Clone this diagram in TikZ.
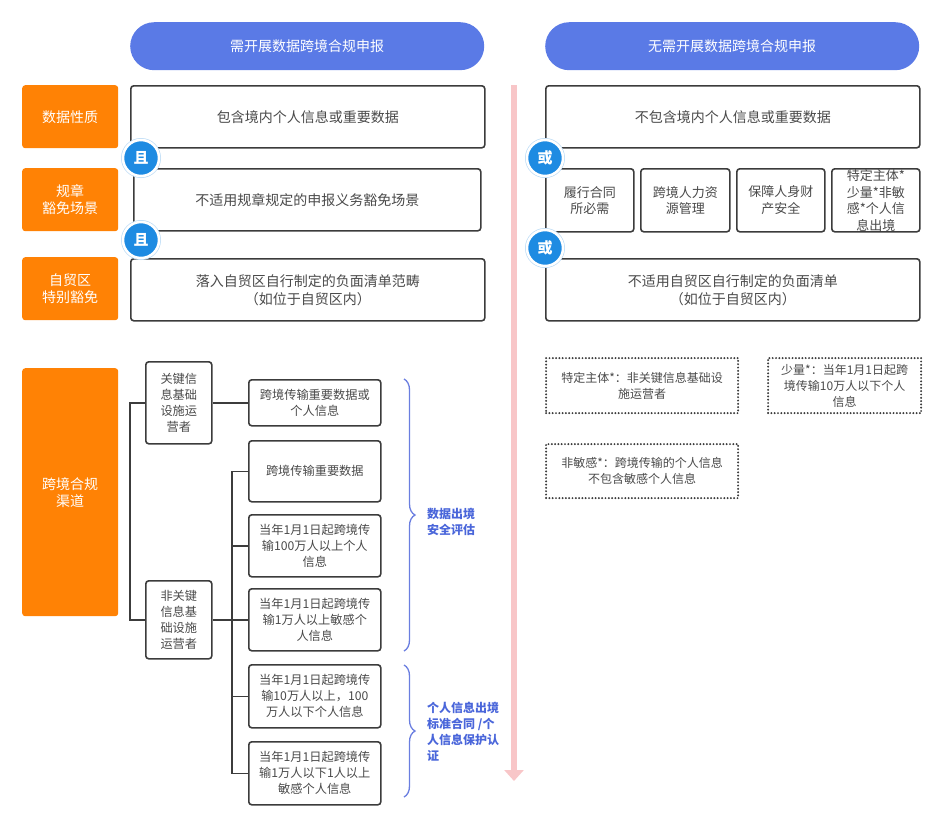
\documentclass[tikz,border=0pt]{standalone}
\usepackage{fontspec}
\setmainfont{Noto Sans CJK SC}
\usetikzlibrary{arrows.meta,decorations.pathreplacing,calc}
\definecolor{hdrblue}{HTML}{5A7AE6}
\definecolor{orangebox}{HTML}{FF8205}
\definecolor{circblue}{HTML}{1E8BE2}
\definecolor{circhalo}{HTML}{BFDDF6}
\definecolor{bordergray}{HTML}{3C3C3C}
\definecolor{textgray}{HTML}{4A4A4A}
\definecolor{bracecol}{HTML}{6A7EE0}
\definecolor{labelblue}{HTML}{4A66DA}
\definecolor{pinkline}{HTML}{F8C6C8}
\begin{document}
\begin{tikzpicture}[x=1pt,y=-1pt,
  hdr/.style={fill=hdrblue, rounded corners=24pt, text=white, anchor=north west, inner sep=0pt,
    font=\fontsize{14}{17}\selectfont},
  obox/.style={fill=orangebox, rounded corners=3pt, text=white, anchor=north west, inner sep=0pt,
    align=center, font=\fontsize{14}{17}\selectfont},
  wbox/.style={draw=bordergray, line width=1.6pt, rounded corners=3pt, fill=white, text=textgray,
    anchor=north west, inner sep=0pt, align=center, font=\fontsize{14}{18}\selectfont},
  sbox/.style={wbox, font=\fontsize{13}{16.5}\selectfont},
  tbox/.style={wbox, font=\fontsize{12.2}{16}\selectfont},
  dbox/.style={draw=bordergray, line width=2.2pt, dash pattern=on 0pt off 3.3pt, line cap=round,
    text=textgray, anchor=north west, inner sep=0pt, align=center, font=\fontsize{12}{16}\selectfont},
  logic/.style={circle, fill=circblue, draw=white, line width=2.5pt, minimum size=36pt, inner sep=0pt,
    text=white, font=\fontsize{15}{15}\selectfont\bfseries,
    append after command={\pgfextra{\draw[circhalo, line width=1pt] (\tikzlastnode.center) circle (19.5pt);}}},
  conn/.style={draw=bordergray, line width=1.5pt},
  brc/.style={draw=bracecol, line width=1.3pt, decorate, decoration={brace, amplitude=11pt}},
  blab/.style={anchor=west, align=left, text=labelblue, inner sep=0pt,
    font=\fontsize{12}{16}\selectfont\bfseries}
]
\useasboundingbox (0,0) rectangle (942,823);

% pink arrow
\coordinate (pa) at (514,85);
\coordinate (pb) at (514,781);
\draw[pinkline, line width=6pt, -{Triangle[width=19pt,length=11pt]}] (pa) -- (pb);

% headers
\node[hdr, minimum width=354pt, minimum height=48pt] (hl) at (130,22) {需开展数据跨境合规申报};
\node[hdr, minimum width=374pt, minimum height=48pt] (hr) at (545,22) {无需开展数据跨境合规申报};

% orange labels
\node[obox, minimum width=96pt, minimum height=63pt] (o1) at (22,85) {数据性质};
\node[obox, minimum width=96pt, minimum height=63pt] (o2) at (22,168) {规章\\豁免场景};
\node[obox, minimum width=96pt, minimum height=63pt] (o3) at (22,257) {自贸区\\特别豁免};
\node[obox, minimum width=96pt, minimum height=248pt] (o4) at (22,368) {跨境合规\\渠道};

% left column
\node[wbox, minimum width=354pt, minimum height=62pt] (l1) at (130,85) {包含境内个人信息或重要数据};
\node[wbox, minimum width=347pt, minimum height=62pt] (l2) at (133,168) {不适用规章规定的申报义务豁免场景};
\node[wbox, minimum width=354pt, minimum height=62pt] (l3) at (130,258) {落入自贸区自行制定的负面清单范畴\\（如位于自贸区内）};

% right column
\node[wbox, minimum width=374pt, minimum height=62pt] (r1) at (545,85) {不包含境内个人信息或重要数据};
\node[sbox, minimum width=88pt, minimum height=63pt] (s1) at (545,168) {履行合同\\所必需};
\node[sbox, minimum width=89pt, minimum height=63pt] (s2) at (640,168) {跨境人力资\\源管理};
\node[sbox, minimum width=88pt, minimum height=63pt] (s3) at (736,168) {保障人身财\\产安全};
\node[sbox, minimum width=88pt, minimum height=63pt] (s4) at (831,168) {特定主体*\\少量*非敏\\感*个人信\\息出境};
\node[wbox, minimum width=374pt, minimum height=62pt] (r3) at (545,258) {不适用自贸区自行制定的负面清单\\（如位于自贸区内）};

% logic circles
\node[logic] (and1) at (141,158) {且};
\node[logic] (and2) at (141,240) {且};
\node[logic] (or1) at (545,158) {或};
\node[logic] (or2) at (545,248) {或};

% tree
\node[tbox, minimum width=66pt, minimum height=82pt] (ta) at (145,361) {关键信\\息基础\\设施运\\营者};
\node[tbox, minimum width=66pt, minimum height=78pt] (tb) at (145,580) {非关键\\信息基\\础设施\\运营者};
\node[tbox, minimum width=132pt, minimum height=46pt] (c1) at (248,379) {跨境传输重要数据或\\个人信息};
\node[tbox, minimum width=132pt, minimum height=61pt] (c2) at (248,440) {跨境传输重要数据};
\node[tbox, minimum width=132pt, minimum height=62pt] (c3) at (248,514) {当年1月1日起跨境传\\输100万人以上个人\\信息};
\node[tbox, minimum width=132pt, minimum height=62pt] (c4) at (248,588) {当年1月1日起跨境传\\输1万人以上敏感个\\人信息};
\node[tbox, minimum width=132pt, minimum height=63pt] (c5) at (248,664) {当年1月1日起跨境传\\输10万人以上，100\\万人以下个人信息};
\node[tbox, minimum width=132pt, minimum height=63pt] (c6) at (248,741) {当年1月1日起跨境传\\输1万人以下1人以上\\敏感个人信息};

\draw[conn] (ta.west) -- ++(-15,0) |- (tb.west);
\draw[conn] (ta.east) -- (c1.west);
\draw[conn] (tb.east) -- (c4.west);
\draw[conn] (c2.west) -- ++(-16,0) |- (c6.west);
\draw[conn] (c3.west) -- ++(-16,0);
\draw[conn] (c5.west) -- ++(-16,0);

% braces
\coordinate (b1t) at (404,379);
\coordinate (b1b) at (404,651);
\coordinate (b2t) at (404,665);
\coordinate (b2b) at (404,797);
\draw[brc] (b1t) -- (b1b);
\draw[brc] (b2t) -- (b2b);
\node[blab] (lab1) at (427,522) {数据出境\\安全评估};
\node[blab] (lab2) at (427,732) {个人信息出境\\标准合同 /个\\人信息保护认\\证};

% dotted notes
\node[dbox, minimum width=192pt, minimum height=55pt] (d1) at (545,357) {特定主体*：非关键信息基础设\\施运营者};
\node[dbox, minimum width=153pt, minimum height=55pt] (d2) at (767,357) {少量*：当年1月1日起跨\\境传输10万人以下个人\\信息};
\node[dbox, minimum width=192pt, minimum height=54pt] (d3) at (545,443) {非敏感*：跨境传输的个人信息\\不包含敏感个人信息};
\end{tikzpicture}
\end{document}
